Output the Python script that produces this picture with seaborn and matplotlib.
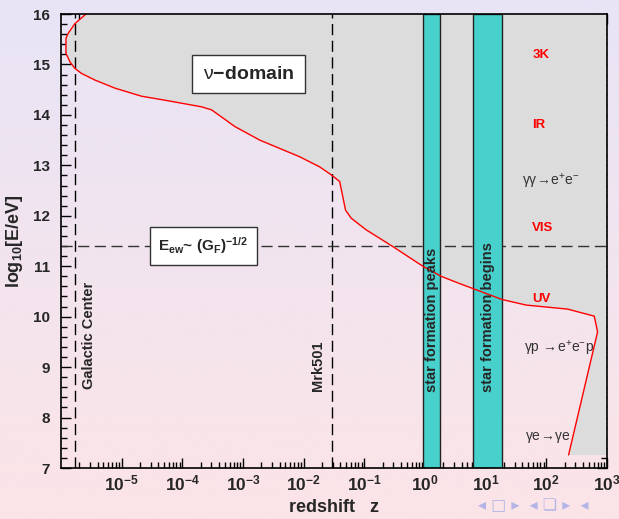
import numpy as np
import pandas as pd
import matplotlib
matplotlib.use("Agg")
import matplotlib.pyplot as plt
import seaborn as sns
from matplotlib.ticker import LogLocator, MultipleLocator, FuncFormatter, NullFormatter, FixedLocator

# ---------------- data ----------------
curve_log_z = [-5.588, -5.770, -5.880, -5.918, -5.918, -5.852, -5.770, -5.659, -5.440,
               -5.111, -4.672, -4.234, -3.684, -3.519, -3.355, -3.136, -2.724, -2.066,
               -1.737, -1.544, -1.407, -1.309, -1.215, -0.968, -0.530, -0.036, 0.267,
               0.519, 1.271, 1.666, 2.351, 2.790, 2.845, 2.367]
curve_logE = [16.00, 15.81, 15.62, 15.52, 15.22, 15.05, 14.92, 14.82, 14.69,
              14.53, 14.37, 14.28, 14.16, 14.10, 13.96, 13.77, 13.50, 13.17,
              12.97, 12.81, 12.68, 12.11, 11.95, 11.72, 11.39, 11.00, 10.80,
              10.68, 10.34, 10.23, 10.15, 10.01, 9.70, 7.26]
galactic_center_z = 1.7e-6
mrk501_z = 0.029
ew_logE = 11.4
sf_peaks_z = [0.92, 1.78]
sf_begins_z = [6.3, 18.4]
x_decades = [-5, -4, -3, -2, -1, 0, 1, 2, 3]
y_ticks = [7, 8, 9, 10, 11, 12, 13, 14, 15, 16]
process_labels = ["3K", "IR", r"$\gamma\gamma\!\rightarrow\!e^{+}e^{-}$", "VIS", "UV",
                  r"$\gamma p\ \!\rightarrow\!e^{+}e^{-}p$", r"$\gamma e\!\rightarrow\!\gamma e$"]
proc_z = [81.9, 73.8, 119, 86, 82.8, 164, 104]
proc_E = [15.19, 13.80, 12.67, 11.76, 10.35, 9.36, 7.61]
proc_red = [True, True, False, True, True, False, False]

# ---------------- style ----------------
sns.set_theme(style="ticks")
plt.rcParams['font.family'] = ['Liberation Sans', 'DejaVu Sans']
plt.rcParams['mathtext.fontset'] = 'custom'
plt.rcParams['mathtext.rm'] = 'Liberation Sans'
plt.rcParams['mathtext.it'] = 'Liberation Sans:italic'
plt.rcParams['mathtext.bf'] = 'Liberation Sans:bold'
plt.rcParams['mathtext.default'] = 'rm'

fig = plt.figure(figsize=(6.19, 5.19), dpi=100)

# background gradient (beamer slide)
bg = fig.add_axes([0, 0, 1, 1], zorder=-10)
top_c = np.array([232, 228, 246]) / 255
bot_c = np.array([252, 228, 231]) / 255
t = np.linspace(0, 1, 256)[:, None, None]
grad = top_c[None, None, :] * (1 - t) + bot_c[None, None, :] * t
bg.imshow(grad, aspect='auto', extent=[0, 1, 0, 1])
bg.axis('off')

ax = fig.add_axes([61/619, 1 - 468/519, (607-61)/619, (468-14)/519])
ax.set_facecolor('none')
ax.set_xscale('log')
ax.set_xlim(1e-6, 1e3)
ax.set_ylim(7, 16)

df = pd.DataFrame({"z": 10.0 ** np.array(curve_log_z), "logE": curve_logE})

# gray neutrino-accessible domain
xmax = ax.get_xlim()[1]
ymax = ax.get_ylim()[1]
poly_x = list(df["z"]) + [xmax, xmax, df["z"].iloc[0]]
poly_y = list(df["logE"]) + [df["logE"].iloc[-1], ymax, ymax]
ax.fill(poly_x, poly_y, color='#dcdcdc', zorder=1, lw=0)

# dashed reference lines
dash = (0, (8, 4))
ax.axvline(galactic_center_z, color='black', lw=1, ls=dash, zorder=2)
ax.axvline(mrk501_z, color='black', lw=1, ls=dash, zorder=2)
ax.axhline(ew_logE, color='#333333', lw=1, ls=dash, zorder=2)

# star formation bands
for lo, hi in (sf_peaks_z, sf_begins_z):
    ax.axvspan(lo, hi, facecolor='#48d1cc', edgecolor='#222222', lw=1, zorder=3)

# red curve
sns.lineplot(data=df, x="z", y="logE", sort=False, estimator=None, color='red',
             lw=1, ax=ax, zorder=4)

# ticks
ax.xaxis.set_major_locator(FixedLocator([10.0 ** d for d in x_decades]))
ax.xaxis.set_minor_locator(LogLocator(base=10, subs=np.arange(2, 10), numticks=20))
ax.xaxis.set_minor_formatter(NullFormatter())
ax.xaxis.set_major_formatter(FuncFormatter(
    lambda v, p: r"$\mathbf{10^{%d}}$" % round(np.log10(v))))
ax.set_yticks(y_ticks)
ax.yaxis.set_minor_locator(MultipleLocator(0.2))
ax.tick_params(which='both', direction='in', top=True, right=True, width=1, color='black')
ax.tick_params(which='major', length=7)
ax.tick_params(which='minor', length=4)
ax.tick_params(axis='x', which='major', labelsize=12.5, pad=4)
ax.tick_params(axis='y', which='major', labelsize=11, pad=8)
for lab in ax.get_yticklabels():
    lab.set_fontweight('bold')
for s in ax.spines.values():
    s.set_linewidth(1.2)
    s.set_color('black')
    s.set_zorder(10)

ax.set_xlabel("redshift   z", fontsize=13, fontweight='bold', labelpad=4)
ax.set_ylabel(r"$\mathbf{log_{10}[E/eV]}$", fontsize=13, labelpad=6)

# boxed labels
ax.text(1.22e-3, 14.81, r"$\nu$" + "\u2212domain", fontsize=14, fontweight='bold',
        ha='center', va='center', zorder=6,
        bbox=dict(boxstyle='square,pad=0.55', fc='white', ec='#333333', lw=1))
ax.text(2.23e-4, 11.40, r"$\mathbf{E_{ew}}$" + "~ " + r"$\mathbf{(G_F)^{-1/2}}$",
        fontsize=11, fontweight='bold', ha='center', va='center', zorder=6,
        bbox=dict(boxstyle='square,pad=0.55', fc='white', ec='#333333', lw=1))

# vertical labels
ax.text(2.85e-6, 9.62, "Galactic Center", rotation=90, fontsize=10.5, fontweight='bold',
        ha='center', va='center', zorder=6)
ax.text(0.017, 9.02, "Mrk501", rotation=90, fontsize=10.5, fontweight='bold',
        ha='center', va='center', zorder=6)
ax.text(1.3, 8.51, "star formation peaks", rotation=90, fontsize=10.5, fontweight='bold',
        ha='center', va='bottom', zorder=6)
ax.text(10.9, 8.51, "star formation begins", rotation=90, fontsize=10.5, fontweight='bold',
        ha='center', va='bottom', zorder=6)

# process labels
for lab, zz, ee, red in zip(process_labels, proc_z, proc_E, proc_red):
    if red:
        ax.text(zz, ee, lab, color='red', fontsize=9.5, fontweight='bold',
                ha='center', va='center', zorder=6)
    else:
        ax.text(zz, ee, lab, color='#333333', fontsize=10,
                ha='center', va='center', zorder=6)

# beamer navigation symbols
fig.text(0.772, 0.012, "\u25c2 \u25a1 \u25b8  \u25c2 \u274f \u25b8  \u25c2", color='#b4b4e6',
         fontsize=11.5, ha='left', va='bottom', family=['DejaVu Sans'])

fig.savefig("out.png", dpi=100)
